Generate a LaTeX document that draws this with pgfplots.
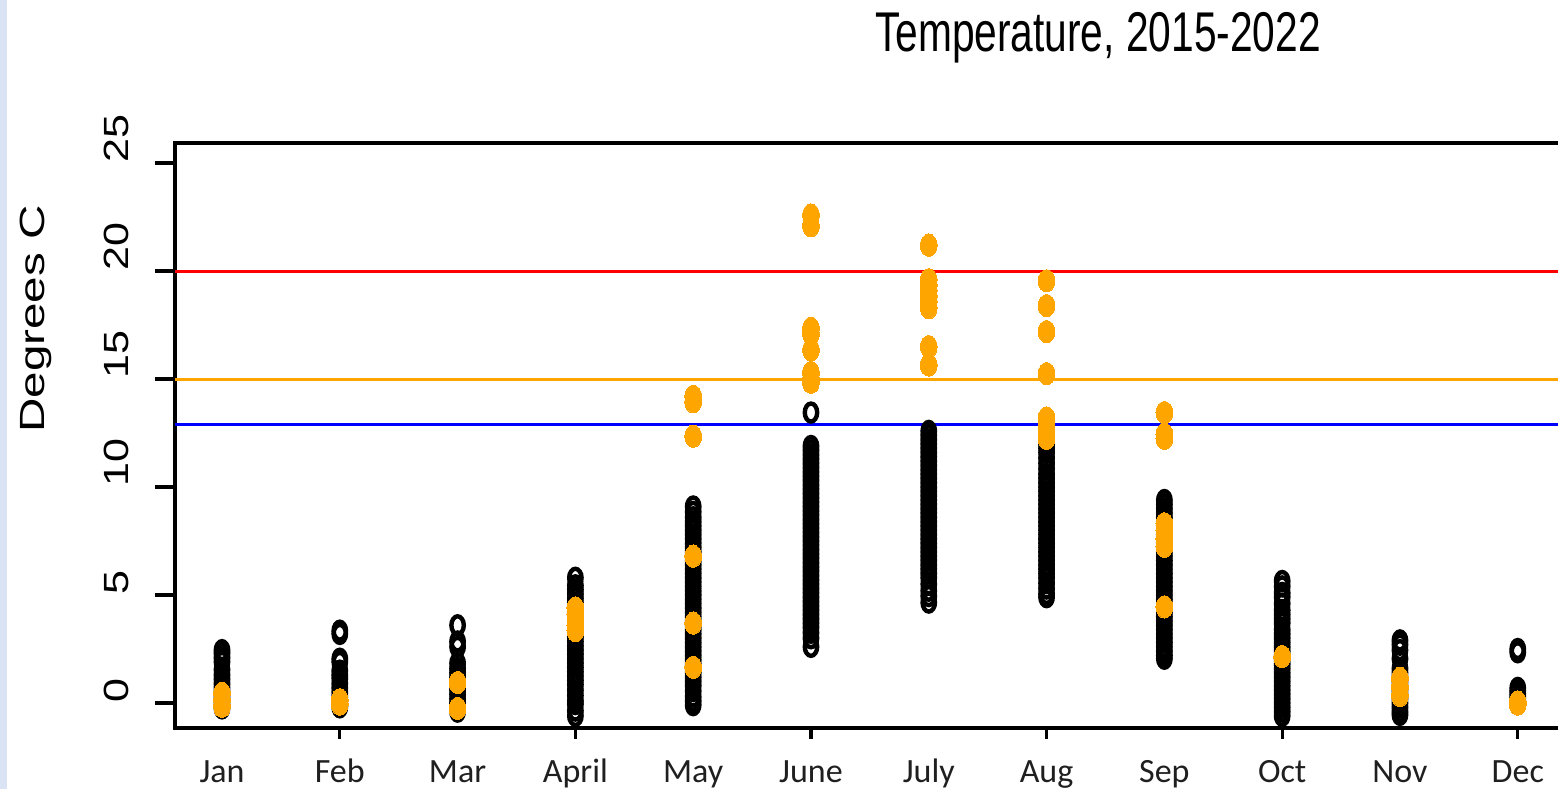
\documentclass[border=0pt]{standalone}
\usepackage{pgfplots}
\pgfplotsset{compat=1.18}
\usepackage{graphicx}
\usepackage{fontspec}
\setmainfont{Liberation Sans}
\newfontfamily\carlito{Carlito}
\definecolor{rorange}{RGB}{255,165,0}
\definecolor{stripblue}{RGB}{218,227,243}
\begin{document}
\begin{tikzpicture}
\useasboundingbox (-87.5pt,-30.5pt) rectangle (691.5pt,364pt);
\fill[stripblue] (-87.5pt,-30.5pt) rectangle (-84pt,364pt);
\begin{axis}[
  at={(0pt,0pt)}, anchor=south west,
  scale only axis, width=700pt, height=292.5pt,
  xmin=0.601, xmax=12.486, ymin=-1.157, ymax=25.93,
  clip=false,
  axis line style={line width=1.7pt},
  xtick={1,...,12},
  xticklabels={Jan,Feb,Mar,April,May,June,July,Aug,Sep,Oct,Nov,Dec},
  xtick style={draw=none},
  ytick={0,5,...,25},
  tick align=outside, major tick length=10pt,
  ytick style={line width=1.6pt, black},
  /pgf/number format/assume math mode=true,
  yticklabel={\scalebox{1.23}[1]{\pgfmathprintnumber{\tick}}},
  yticklabel style={xshift=-13.5pt, rotate=90, anchor=base west, inner sep=0pt,
    font=\fontsize{17.5}{17.5}\selectfont},
  xticklabel style={yshift=-17pt, anchor=base, inner sep=0pt, text=black!88,
    font=\carlito\fontsize{17}{17}\selectfont},
]
% black open circles
\addplot[black, only marks, mark=o, mark size=3.1pt, mark options={yscale=1.45, line width=2.2pt}] coordinates {
(1,2.45)(1,2.3)(1,2.1)(1,1.9)(1,1.55)(1,1.3)(1,1.1)(1,0.9)(1,0.7)(1,0.5)(1,0.3)(1,0.1)(1,-0.1)(1,-0.25)
(2,3.35)(2,3.2)(2,2.05)(2,1.9)(2,1.5)(2,1.3)(2,1.15)(2,0.9)(2,0.7)(2,0.5)(2,0.3)(2,0.1)(2,-0.1)(2,-0.2)
(3,3.6)(3,2.85)(3,2.6)(3,1.85)(3,1.6)(3,1.4)(3,1.2)(3,1.0)(3,0.8)(3,0.6)(3,0.4)(3,0.2)(3,0.0)(3,-0.2)(3,-0.4)
(4,5.8)(4,5.45)(4,5.25)(4,5.05)(4,4.85)(4,4.65)(4,4.45)(4,4.25)(4,4.05)(4,3.85)(4,3.65)(4,3.45)(4,3.25)(4,3.05)(4,2.85)(4,2.65)(4,2.45)(4,2.25)(4,2.05)(4,1.85)(4,1.65)(4,1.45)(4,1.25)(4,1.05)(4,0.85)(4,0.6)(4,0.35)(4,0.1)(4,-0.05)(4,-0.35)(4,-0.6)
(5,9.1)(5,8.85)(5,8.6)(5,8.4)(5,8.2)(5,8.0)(5,7.8)(5,7.6)(5,7.4)(5,7.2)(5,7.0)(5,6.8)(5,6.6)(5,6.4)(5,6.2)(5,6.0)(5,5.8)(5,5.6)(5,5.4)(5,5.2)(5,5.0)(5,4.8)(5,4.6)(5,4.4)(5,4.2)(5,4.0)(5,3.8)(5,3.6)(5,3.4)(5,3.2)(5,3.0)(5,2.8)(5,2.6)(5,2.4)(5,2.2)(5,2.0)(5,1.8)(5,1.6)(5,1.4)(5,1.2)(5,1.0)(5,0.8)(5,0.55)(5,0.3)(5,0.1)(5,-0.1)
(6,13.45)(6,11.9)(6,11.7)(6,11.5)(6,11.3)(6,11.1)(6,10.9)(6,10.7)(6,10.5)(6,10.3)(6,10.1)(6,9.9)(6,9.7)(6,9.5)(6,9.3)(6,9.1)(6,8.9)(6,8.7)(6,8.5)(6,8.3)(6,8.1)(6,7.9)(6,7.7)(6,7.5)(6,7.3)(6,7.1)(6,6.9)(6,6.7)(6,6.5)(6,6.3)(6,6.1)(6,5.9)(6,5.7)(6,5.5)(6,5.3)(6,5.1)(6,4.9)(6,4.7)(6,4.5)(6,4.3)(6,4.1)(6,3.9)(6,3.7)(6,3.5)(6,3.25)(6,3.0)(6,2.6)
(7,12.6)(7,12.4)(7,12.2)(7,12.0)(7,11.8)(7,11.6)(7,11.4)(7,11.2)(7,11.0)(7,10.8)(7,10.6)(7,10.4)(7,10.2)(7,10.0)(7,9.8)(7,9.6)(7,9.4)(7,9.2)(7,9.0)(7,8.8)(7,8.6)(7,8.4)(7,8.2)(7,8.0)(7,7.8)(7,7.6)(7,7.4)(7,7.2)(7,7.0)(7,6.8)(7,6.6)(7,6.4)(7,6.2)(7,6.0)(7,5.8)(7,5.5)(7,5.2)(7,4.95)(7,4.65)
(8,12.2)(8,12.0)(8,11.8)(8,11.6)(8,11.35)(8,11.1)(8,10.85)(8,10.6)(8,10.4)(8,10.2)(8,10.0)(8,9.8)(8,9.6)(8,9.4)(8,9.2)(8,9.0)(8,8.8)(8,8.6)(8,8.4)(8,8.2)(8,8.0)(8,7.8)(8,7.6)(8,7.4)(8,7.2)(8,7.0)(8,6.8)(8,6.6)(8,6.4)(8,6.2)(8,6.0)(8,5.8)(8,5.55)(8,5.3)(8,5.05)(8,4.9)
(9,9.4)(9,9.2)(9,9.0)(9,8.8)(9,8.6)(9,8.4)(9,8.2)(9,8.0)(9,7.8)(9,7.6)(9,7.4)(9,7.2)(9,7.0)(9,6.8)(9,6.6)(9,6.4)(9,6.2)(9,6.0)(9,5.8)(9,5.6)(9,5.4)(9,5.2)(9,5.0)(9,4.8)(9,4.6)(9,4.4)(9,4.2)(9,4.0)(9,3.8)(9,3.6)(9,3.4)(9,3.2)(9,3.0)(9,2.8)(9,2.6)(9,2.4)(9,2.2)(9,2.05)
(10,5.65)(10,5.4)(10,5.1)(10,4.9)(10,4.6)(10,4.3)(10,4.1)(10,3.9)(10,3.7)(10,3.4)(10,3.2)(10,3.0)(10,2.8)(10,2.6)(10,2.4)(10,2.2)(10,2.0)(10,1.8)(10,1.6)(10,1.4)(10,1.2)(10,1.0)(10,0.8)(10,0.6)(10,0.4)(10,0.2)(10,0.0)(10,-0.2)(10,-0.4)(10,-0.6)
(11,2.9)(11,2.7)(11,2.45)(11,2.05)(11,1.6)(11,1.4)(11,1.2)(11,1.0)(11,0.8)(11,0.6)(11,0.4)(11,0.2)(11,0.0)(11,-0.2)(11,-0.4)(11,-0.55)
(12,2.5)(12,2.35)(12,0.7)(12,0.55)(12,0.4)(12,0.25)(12,0.1)(12,-0.05)
};
% orange filled points
\addplot[rorange, only marks, mark=*, mark size=4.2pt, mark options={yscale=1.33, draw=rorange, fill=rorange, line width=0pt}] coordinates {
(1,0.45)(1,0.15)(1,-0.15)
(2,0.15)(2,-0.05)
(3,0.95)(3,-0.25)
(4,4.4)(4,4.1)(4,3.6)(4,3.35)
(5,14.2)(5,13.95)(5,12.35)(5,6.8)(5,3.7)(5,1.65)
(6,22.6)(6,22.1)(6,17.35)(6,17.1)(6,16.35)(6,15.3)(6,15.0)(6,14.85)
(7,21.2)(7,19.6)(7,19.35)(7,19.1)(7,18.85)(7,18.6)(7,18.3)(7,16.5)(7,15.65)
(8,19.55)(8,18.4)(8,17.2)(8,15.25)(8,13.2)(8,12.95)(8,12.7)(8,12.45)(8,12.25)
(9,13.45)(9,12.45)(9,12.25)(9,8.3)(9,8.0)(9,7.6)(9,7.25)(9,4.45)
(10,2.15)
(11,1.15)(11,0.75)(11,0.35)
(12,0.05)(12,-0.05)
};
% reference lines
\addplot[red, line width=1.5pt] coordinates {(0.601,20) (12.486,20)};
\addplot[rorange, line width=1.5pt] coordinates {(0.601,15) (12.486,15)};
\addplot[blue, line width=1.5pt] coordinates {(0.601,12.9) (12.486,12.9)};
% x tick marks at even months
\pgfplotsinvokeforeach{2,4,6,8,10,12}{
  \draw[line width=1.6pt] (axis cs:#1,-1.157) -- ++(0pt,-5.5pt);
}
\end{axis}
\node[anchor=base, inner sep=0pt] at (461.5pt,338pt)
  {\scalebox{0.727}[1]{\fontsize{28}{28}\selectfont Temperature, 2015-2022}};
\node[rotate=90, anchor=base, inner sep=0pt] at (-65pt,204.5pt)
  {\scalebox{1.36}[1]{\fontsize{17.5}{17.5}\selectfont Degrees C}};
\end{tikzpicture}
\end{document}
